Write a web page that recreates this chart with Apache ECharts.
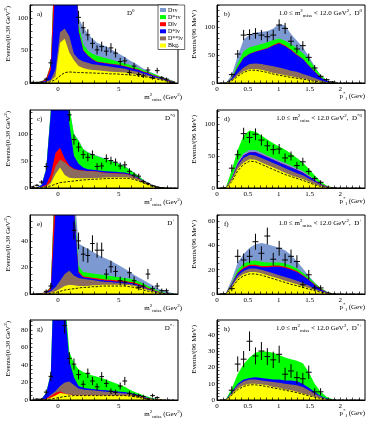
<!DOCTYPE html>
<html><head><meta charset="utf-8">
<script src="https://cdn.jsdelivr.net/npm/echarts@6/dist/echarts.min.js"></script>
<style>html,body{margin:0;padding:0;background:#fff}#c{width:374px;height:422px}</style>
</head><body><div id="c"></div>
<script>
// ---- bin centres ----
const mCenters = [-2.11,-1.73,-1.35,-0.97,-0.59,-0.21,0.17,0.55,0.93,1.31,1.69,2.07,2.45,2.83,3.21,3.59,3.97,4.35,4.73,5.11,5.49,5.87,6.25,6.63,7.01,7.39,7.77,8.15,8.53,8.91,9.29,9.67];
const pCenters = [0.048,0.144,0.24,0.336,0.432,0.528,0.624,0.72,0.816,0.912,1.008,1.104,1.2,1.296,1.392,1.488,1.584,1.68,1.776,1.872,1.968,2.064,2.16,2.256,2.352];
const mTickLabels = [0,5];
const pTickLabels = [0,0.5,1,1.5,2];

// ---- panel a (D0, m2miss) : cumulative tops of stacked components ----
const aY  = [0.3,0.5,1,1.5,3,10,62,68,47,35,26,23,21,20,19.5,19,18,17.5,17,16.5,16,15,14,13,11.5,10,8.5,7,5,3.5,2,0.5];
const aBr = [0.4,0.7,1.5,2.5,5,20,78,84,72,45,37,33,31,29,28,27,26,25,24,23,22,20,18.5,17,14.5,12.5,10,8,6,4,2.5,0.8];
const aBl = [0.5,0.9,2,4,20,151,600,550,400,250,80,50,42,36,32,31,30,29,28,27,25.5,23.5,21.5,20,17,15,12,9.5,7.2,5,3,1];
const aR  = [0.6,1,2.5,6,28,212,620,570,410,255,81,51,42.8,36.8,32.8,31.8,30.8,29.8,28.8,27.8,26.3,24.3,22.3,20.8,17.8,15.8,12.8,10.3,8,5.8,3.6,1.5];
const aG  = [0.7,1,2.7,6,29,220,640,590,420,270,90,60,50,45,42,40,38,36,34,32,30,28,25.5,23,20,17.5,14.5,12,9,6.5,4,1.8];
const aLB = [0.8,1,3,6,30,230,660,610,440,280,100,86,76,68,62,59,56,52,48,44,40,35,31,27,22.5,19,15.5,12.5,9.5,7,4.5,2];
const aBkg = [0,0,0,0.5,2,5,11,16,17,16.5,16,16,15.5,15.5,15,15,14.5,14,14,13.5,13,12.5,12,11,10,9,7.5,6,4.5,3,1.5,0.5];
const aData = [1,1,1,6,31,null,null,null,null,null,101,85,74,61,51,56,49,54,46,33,34,16,26,13,11,20,8,19,8,6,1,null];
const aErr  = [1,1,1,2.4,5.6,null,null,null,null,null,10,9.2,8.6,7.8,7.1,7.5,7,7.3,6.8,5.7,5.8,4,5.1,3.6,3.3,4.5,2.8,4.4,2.8,2.4,1,null];

// ---- panel b (D0, p*) ----
const bY  = [0,0,5,14,21,25,25,24,21,18,16,14,12,10,8,6,4,2.5,1,0.3,0,0,0,0,0];
const bBr = [0,0,6,18,28,34,35,34,32,30,28,25,22,20,16,13,9,5,2,0.5,0,0,0,0,0];
const bBl = [0,0,8,28,45,52,56,59,62,67,71,66,59,50,43,31,20,10,4,1,0,0,0,0,0];
const bR  = [0,0,8.5,28.5,45.5,52.5,56.5,59.5,63,68,72.5,67.5,60,51,43.5,31.5,20.5,10.3,4.2,1.1,0,0,0,0,0];
const bG  = [0,0,10,35,57,64,67,70,73,77,80,76,70,62,54,42,28,14,5,1.5,0,0,0,0,0];
const bLB = [0,0,15,48,78,87,90,92,93,98,106,103,88,76,64,48,30,14.5,5.5,1.6,0,0,0,0,0];
const bBkg = [0,0,4,12,19,23,23,21,19,16,14,12,10,8.5,7,5,3,1.5,0.5,0,0,0,0,0,0];
const bData = [null,null,15,52,86,87,89,86,83,86,104,98,75,61,67,46,27,12,6,2,null,null,null,null,null];
const bErr  = [null,null,3.9,7.2,9.3,9.3,9.4,9.3,9.1,9.3,10.2,9.9,8.7,7.8,8.2,6.8,5.2,3.5,2.4,1.4,null,null,null,null,null];

// ---- panel c (D*0, m2miss) ----
const cY  = [0.3,0.7,1.5,3,9,26,38,24,19,18,18,18,18,18,18.5,19,19.5,20,20,20,20,19,17,14,10,7,4,2,0.8,0.3,0,0];
const cBr = [0.4,0.9,2,4,12,40,53,48,40,35,33,32,31,31,30,29,28,27.5,27,26.5,26,24,21,17,12,8,4.5,2.2,0.9,0.3,0,0];
const cR  = [0.5,1,2.3,6,25,65,75,55,42,36,33.5,32.5,31.5,31.5,30.5,29.5,28.5,28,27.5,27,26.5,24.5,21.5,17.5,12.5,8.3,4.7,2.3,0.95,0.35,0,0];
const cBl = [0.6,1.5,5,35,140,500,600,300,120,60,45,38,35,34,33,32,31,30.5,30,29.5,29,26.5,23,19,13.5,9,5,2.4,1,0.4,0,0];
const cG  = [0.6,1.6,5.5,36,145,510,610,310,150,100,88,72,66,62,59,56,53,50,47,44,40,34,28,22,15,9.5,5.2,2.5,1.05,0.42,0,0];
const cLB = [0.6,1.6,5.5,36,146,511,611,311,151,101,89,73,67,63,60,57,54,51,48,45,41,35,29,23,15.5,10,5.5,2.7,1.1,0.45,0,0];
const cBkg = [0,0.5,1,2,4,7,10,11,12,13,14,15,15.5,16,16.5,17,17.5,18,18,18,18,17.5,16,13,9.5,6.5,3.5,1.7,0.6,0.2,0,0];
const cData = [2,5,11,40,null,null,null,null,136,90,76,62,57,62,40,41,55,51,48,41,43,31,24,22,12,8,4,1.5,0.5,null,null,null];
const cErr  = [1.4,2.2,3.3,6.3,null,null,null,null,11.7,9.5,8.7,7.9,7.5,7.9,6.3,6.4,7.4,7.1,6.9,6.4,6.6,5.6,4.9,4.7,3.5,2.8,2,1.2,0.7,null,null,null];

// ---- panel d (D*0, p*) ----
const dY  = [0,0.5,12,30,40,45,44,40,36,32,28,24,20,17,14,10,6,3,1,0.3,0,0,0,0,0];
const dBr = [0,0.6,14,35,47,52,51,47,43,39,35,31,27,23,20,15,10,5,2,0.5,0,0,0,0,0];
const dBl = [0,0.7,15,38,51,56,56,52,48,44,40,36,32,28,24,18,12,6,2.5,0.6,0,0,0,0,0];
const dR  = [0,0.7,15.3,38.3,51.3,56.3,56.3,52.3,48.3,44.3,40.3,36.3,32.3,28.3,24.3,18.3,12.2,6.1,2.6,0.6,0,0,0,0,0];
const dLB = [0,0.8,16.5,41,54.5,59.5,59.5,55.5,51,47,43,39,35,31,26.5,20,13.5,6.8,2.8,0.7,0,0,0,0,0];
const dG  = [0,1,28,60,82,90,88,82,76,70,65,60,54,47,40,30,20,10,4,1,0,0,0,0,0];
const dBkg = [0,0.2,10,27,37,42,41,37,33,29,25,21,18,15,12,8.5,5,2.5,0.8,0.2,0,0,0,0,0];
const dData = [null,null,31,52,85,79,84,75,66,60,61,47,50,35,41,26,15,9,null,null,null,null,null,null,null];
const dErr  = [null,null,5.6,7.2,9.2,8.9,9.2,8.7,8.1,7.7,7.8,6.9,7.1,5.9,6.4,5.1,3.9,3,null,null,null,null,null,null,null];

// ---- panel e (D+, m2miss) ----
const eY  = [0,0,0.2,0.5,1,2,4,6,7,6.5,6,6,6,6.5,6.5,7,7,7,7,7,7,6.5,6,5,4,3,2,1.2,0.6,0.2,0,0];
const eBr = [0,0,0.3,0.8,2,5,10,15,17.5,14,12,11.5,11,10.5,10,9.5,9,9,8.5,8.5,8,7.5,7,6,5,3.5,2.5,1.5,0.7,0.2,0,0];
const eBl = [0,0.1,0.4,1.2,3.5,62,300,250,150,65,16,12.5,12,11.5,11,10.5,10,10,9.5,9.5,9,8.5,8,6.8,5.6,4,2.8,1.7,0.8,0.25,0,0];
const eR  = [0,0.1,0.5,1.5,5,92,320,260,155,66,17,13.3,12.8,12.3,11.8,11.3,10.8,10.8,10.3,10.3,9.8,9.3,8.8,7.5,6.2,4.5,3.2,2,1,0.3,0,0];
const eG  = [0,0.1,0.5,1.6,5.5,95,330,270,160,70,21,16.5,16,15.5,15,14.5,14,13.5,13,12.5,12,11.5,11,9.5,8,6,4.3,2.8,1.5,0.6,0.2,0];
const eLB = [0,0.1,0.6,1.7,6,100,340,280,170,80,38,36,34,32,30,28,26.5,25,23,21,19,17,14.5,12.5,10.5,8.5,6.5,4.5,3,2,1,0.3];
const eBkg = [0,0,0,0,0.5,1,2,3,3.5,4,4.5,5,5,5.5,5.5,6,6,6,6,6,6,5.5,5,4,3,2.2,1.5,0.8,0.4,0.1,0,0];
const eData = [null,null,null,2,6,null,null,null,null,48,40,30,29,38,33,33,15,20.5,17,10,9,16,10,5,6,15,4,6,2.5,2.5,null,null];
const eErr  = [null,null,null,1.4,2.4,null,null,null,null,6.9,6.3,5.5,5.4,6.2,5.7,5.7,3.9,4.5,4.1,3.2,3,4,3.2,2.2,2.4,3.9,2,2.4,1.6,1.6,null,null];

// ---- panel f (D+, p*) ----
const fY  = [0,0.3,6,13,16.5,18,18,17,15.5,14,12.5,11,9.5,8,6.5,5,3.3,2,0.8,0.2,0,0,0,0,0];
const fBr = [0,0.4,7,15,19,21,21,20,18.5,17,15.5,14,12.5,11,9,7,4.5,2.5,1,0.3,0,0,0,0,0];
const fBl = [0,0.5,8,17,21,23,23,22,22,22.5,22.5,21.5,20,18,15,11.5,7.5,4,1.5,0.4,0,0,0,0,0];
const fR  = [0,0.5,8.5,17.7,22,24,24,23,23,23.5,23.5,22.5,21,19,15.7,12,8,4.3,1.7,0.45,0,0,0,0,0];
const fG  = [0,0.6,9,20,25,27,27.5,26.5,26,26,26,25,23.5,21,17.5,13.5,9,5,2,0.5,0,0,0,0,0];
const fLB = [0,0.8,12,26,33,38,41,42,41,39.5,38,36,32,27,21,15,9.5,5.2,2.1,0.6,0,0,0,0,0];
const fBkg = [0,0.1,5,11.5,15,16.5,16.5,15.5,14,12.5,11,9.5,8,6.8,5.5,4,2.7,1.5,0.6,0.1,0,0,0,0,0];
const fData = [null,null,4.4,31,28,31,43,33.5,47.7,28.6,37.6,28,31,26.7,7.6,15.8,5,5,null,null,null,null,null,null,null];
const fErr  = [null,null,2.1,5.6,5.3,5.6,6.6,5.8,6.9,5.3,6.1,5.3,5.6,5.2,2.8,4,2.2,2.2,null,null,null,null,null,null,null];

// ---- panel g (D*+, m2miss) ----
const gY  = [0,0,0.3,1,2.5,5,8,7,6,5.5,5.5,5.5,5.5,5.5,5.5,5.5,5.5,5.5,5.5,5.3,5.2,5,4.5,3.5,2.5,1.5,1,0.5,0.2,0,0,0];
const gR  = [0,0,0.4,1.3,4.5,8,10,7.3,6.2,5.7,5.7,5.7,5.7,5.7,5.7,5.7,5.7,5.7,5.7,5.5,5.4,5.2,4.7,3.7,2.7,1.7,1.1,0.6,0.2,0,0,0];
const gBr = [0,0,0.5,1.5,6,10,16,20,21,17,13,12,11.5,11,10.5,10,9.5,9,8.5,8,7.5,7,6,5,3.5,2.2,1.3,0.6,0.2,0,0,0];
const gBl = [0,0.1,1,8,30,200,300,110,45,26,16,14,13,12.5,12,11.5,11,10.5,10,9.5,9,8,7,5.8,4.2,2.7,1.6,0.8,0.3,0,0,0];
const gG  = [0,0.1,1.1,8.5,31,210,310,120,55,42,35,32,30,28,26.5,25,23,21,19,17,15,12,9.5,7.5,5.5,3.7,2.2,1.1,0.4,0,0,0];
const gBkg = [0,0,0,0.5,1,2,3,4,4.5,5,5,5,5,5,5,5,5,5,5,5,5,4.5,4,3,2,1.2,0.7,0.3,0.1,0,0,0];
const gData = [null,1,1,9,27,null,null,85,47.6,41,29,18,30.5,21.7,15,26.7,19,10,8.8,16,21.7,7.6,5.7,5,4,1,5,2.7,null,null,null,null];
const gErr  = [null,1,1,3,5.2,null,null,9.2,6.9,6.4,5.4,4.2,5.5,4.7,3.9,5.2,4.4,3.2,3,4,4.7,2.8,2.4,2.2,2,1,2.2,1.6,null,null,null,null];

// ---- panel h (D*+, p*) ----
const hY  = [0,0.2,3.5,7,9,10,10,9.5,9,8,7.5,6.5,6,5,4,3,2,1.2,0.5,0.1,0,0,0,0,0];
const hBr = [0,0.3,4.5,9,11.5,12.5,12.5,12,11.5,11,10.5,10,9.5,9,8,6,4,2,0.8,0.2,0,0,0,0,0];
const hBl = [0,0.35,5,10,12.5,13.5,14,13.5,13,12.5,12.5,12,12,11.5,10,7.5,5,2.5,1,0.3,0,0,0,0,0];
const hG  = [0,0.5,7,16,22,26,29,30,29.5,29,27.5,26,25,24,22.5,17,10,5,2,0.5,0,0,0,0,0];
const hBkg = [0,0.1,3,6.3,8.3,9.3,9.3,8.8,8.2,7.4,6.8,6,5.3,4.5,3.6,2.6,1.7,1,0.4,0.1,0,0,0,0,0];
const hData = [null,null,6,22,25,36,27,30,26.6,24.6,28,15.8,17.8,13.7,13,17,5,5,null,null,null,null,null,null,null];
const hErr  = [null,null,2.4,4.7,5,6,5.2,5.5,5.2,5,5.3,4,4.2,3.7,3.6,4.1,2.2,2.2,null,null,null,null,null,null,null];

// ---- styling ----
const FONT = 'Liberation Serif';
const COLORS = {LB:'#7d99d1', G:'#00ff00', R:'#ff0000', Bl:'#0000ff', Br:'#8a6b5e', Y:'#ffff00'};
const NAMES  = {LB:'Dτν', G:'D*τν', R:'Dlν', Bl:'D*lν', Br:'D**lν', Y:'Bkg.'};
const RICH = {
  sup:{fontSize:5, verticalAlign:'top', fontFamily:FONT, fill:'#000', color:'#000'},
  sub:{fontSize:5, verticalAlign:'bottom', fontFamily:FONT, fill:'#000', color:'#000'}
};

const M = {x:mCenters, hw:0.19, xmin:-2.3, xmax:9.86, xLabels:mTickLabels, xTicks:[-2,-1,0,1,2,3,4,5,6,7,8,9]};
const P = {x:pCenters, hw:0.048, xmin:0, xmax:2.4, xLabels:pTickLabels, xTicks:[0,0.1,0.2,0.3,0.4,0.5,0.6,0.7,0.8,0.9,1,1.1,1.2,1.3,1.4,1.5,1.6,1.7,1.8,1.9,2,2.1,2.2,2.3]};

const panels = [
  {ax:M, box:[30,5,148,78],   ymax:120, yLabels:[0,50,100], yStep:10, layers:[['LB',aLB],['G',aG],['R',aR],['Bl',aBl],['Br',aBr],['Y',aY]], bkg:aBkg, data:aData, err:aErr},
  {ax:P, box:[217,5,148,78],  ymax:140, yLabels:[0,50,100], yStep:10, layers:[['LB',bLB],['G',bG],['R',bR],['Bl',bBl],['Br',bBr],['Y',bY]], bkg:bBkg, data:bData, err:bErr},
  {ax:M, box:[30,110,148,78], ymax:145, yLabels:[0,50,100], yStep:10, layers:[['LB',cLB],['G',cG],['Bl',cBl],['R',cR],['Br',cBr],['Y',cY]], bkg:cBkg, data:cData, err:cErr},
  {ax:P, box:[217,110,148,78],ymax:122, yLabels:[0,50,100], yStep:10, layers:[['G',dG],['LB',dLB],['R',dR],['Bl',dBl],['Br',dBr],['Y',dY]], bkg:dBkg, data:dData, err:dErr},
  {ax:M, box:[30,215,148,79], ymax:59.5, yLabels:[0,20,40], yStep:5, layers:[['LB',eLB],['G',eG],['R',eR],['Bl',eBl],['Br',eBr],['Y',eY]], bkg:eBkg, data:eData, err:eErr},
  {ax:P, box:[217,215,148,79],ymax:65, yLabels:[0,20,40,60], yStep:5, layers:[['LB',fLB],['G',fG],['R',fR],['Bl',fBl],['Br',fBr],['Y',fY]], bkg:fBkg, data:fData, err:fErr},
  {ax:M, box:[30,320,148,80], ymax:91.4, yLabels:[0,20,40,60,80], yStep:5, layers:[['G',gG],['Bl',gBl],['Br',gBr],['R',gR],['Y',gY]], bkg:gBkg, data:gData, err:gErr},
  {ax:P, box:[217,320,148,80],ymax:49, yLabels:[0,10,20,30,40], yStep:2, layers:[['G',hG],['Bl',hBl],['Br',hBr],['Y',hY]], bkg:hBkg, data:hData, err:hErr}
];

const option = {animation:false, grid:[], xAxis:[], yAxis:[], series:[], graphic:[],
  legend:{left:158, top:5, orient:'vertical', icon:'rect', itemWidth:6, itemHeight:4, itemGap:1.1,
    padding:[2,2,1,2], backgroundColor:'#fff', borderColor:'#000', borderWidth:0.6, selectedMode:false, z:20,
    data:['Dτν','D*τν','Dlν','D*lν','D**lν','Bkg.'],
    textStyle:{fontFamily:FONT, fontSize:6, color:'#000', padding:[0,0,0,-3]}}
};

panels.forEach((p, i) => {
  const b = p.box, ax = p.ax;
  option.grid.push({left:b[0], top:b[1], width:b[2], height:b[3], show:true, borderColor:'#000', borderWidth:1, backgroundColor:'rgba(0,0,0,0)', z:10});
  option.xAxis.push({type:'value', gridIndex:i, min:ax.xmin, max:ax.xmax, z:10,
    axisLine:{show:true, onZero:false, lineStyle:{color:'#000', width:1}},
    axisTick:{show:true, inside:true, length:2.5, customValues:ax.xTicks, lineStyle:{color:'#000', width:0.7}},
    axisLabel:{show:true, customValues:ax.xLabels, fontFamily:FONT, fontSize:7, color:'#000', margin:3},
    splitLine:{show:false}});
  const yt = []; for (let v = 0; v <= p.ymax; v += p.yStep) yt.push(v);
  option.yAxis.push({type:'value', gridIndex:i, min:0, max:p.ymax, z:10,
    axisLine:{show:true, onZero:false, lineStyle:{color:'#000', width:1}},
    axisTick:{show:true, inside:true, length:2.5, customValues:yt, lineStyle:{color:'#000', width:0.7}},
    axisLabel:{show:true, customValues:p.yLabels, fontFamily:FONT, fontSize:7, color:'#000', margin:2},
    splitLine:{show:false}});
  p.layers.forEach(([key, arr]) => {
    option.series.push({type:'line', name:NAMES[key], xAxisIndex:i, yAxisIndex:i, silent:true,
      data: ax.x.map((xv, k) => [xv, arr[k]]), symbol:'none', smooth:false, clip:true,
      color:COLORS[key], itemStyle:{color:COLORS[key]},
      lineStyle:{width:0, color:COLORS[key]}, areaStyle:{color:COLORS[key], opacity:1}});
  });
  option.series.push({type:'line', name:'bkg-shape', xAxisIndex:i, yAxisIndex:i, silent:true, z:4,
    data: ax.x.map((xv, k) => [xv, p.bkg[k]]), symbol:'none', clip:true,
    lineStyle:{width:0.9, color:'#000', type:[2.5,1.5]}});
  const pts = [];
  p.data.forEach((v, k) => { if (v !== null) pts.push([ax.x[k], v, p.err[k]]); });
  option.series.push({type:'custom', name:'data', xAxisIndex:i, yAxisIndex:i, silent:true, z:6, clip:true,
    data: pts, encode:{x:0, y:1},
    renderItem: (params, api) => {
      const x = api.value(0), y = api.value(1), e = api.value(2);
      const h0 = api.coord([x - ax.hw, y]), h1 = api.coord([x + ax.hw, y]);
      const v0 = api.coord([x, y - e]), v1 = api.coord([x, y + e]);
      return {type:'group', children:[
        {type:'line', shape:{x1:h0[0], y1:h0[1], x2:h1[0], y2:h1[1]}, style:{stroke:'#000', lineWidth:1}},
        {type:'line', shape:{x1:v0[0], y1:v0[1], x2:v1[0], y2:v1[1]}, style:{stroke:'#000', lineWidth:1}}
      ]};
    }});
});

// ---- texts ----
function T(x, y, text, st, extra) {
  return Object.assign({type:'text', x:x, y:y, z:30, silent:true,
    style:Object.assign({text:text, fontFamily:FONT, fontSize:7, fill:'#000', lineHeight:10, rich:RICH, verticalAlign:'middle', align:'left'}, st || {})}, extra || {});
}
const panelLetters = ['a)','b)','c)','d)','e)','f)','g)','h)'];
const mesons = ['D{sup|0}','D{sup|0}','D{sup|*0}','D{sup|*0}','D{sup|+}','D{sup|+}','D{sup|*+}','D{sup|*+}'];
panels.forEach((p, i) => {
  const b = p.box, left = i % 2 === 0;
  option.graphic.push(T(b[0] + 7, b[1] + 9, panelLetters[i]));
  if (left) {
    if (i === 0) option.graphic.push(T(127, b[1] + 8, mesons[i]));
    else option.graphic.push(T(175, b[1] + 8, mesons[i], {align:'right'}));
    option.graphic.push(T(182, b[1] + b[3] + 14, 'm{sup|2}{sub|miss} (Gev{sup|2})', {align:'right'}));
    option.graphic.push(T(8, b[1] + 1, 'Events/(0.38 GeV{sup|2})', {align:'right'}, {rotation:Math.PI / 2}));
  } else {
    option.graphic.push(T(362, b[1] + 8, '1.0 ≤ m{sup|2}{sub|miss} < 12.0 GeV{sup|2},  ' + mesons[i], {align:'right'}));
    option.graphic.push(T(365, b[1] + b[3] + 13, 'p{sup|*}{sub|l} (Gev)', {align:'right'}));
    option.graphic.push(T(194, b[1] + 5, 'Events/(96 MeV)', {align:'right'}, {rotation:Math.PI / 2}));
  }
});

const chart = echarts.init(document.getElementById('c'), null, {renderer:'canvas', width:374, height:422});
chart.setOption(option);
</script></body></html>
